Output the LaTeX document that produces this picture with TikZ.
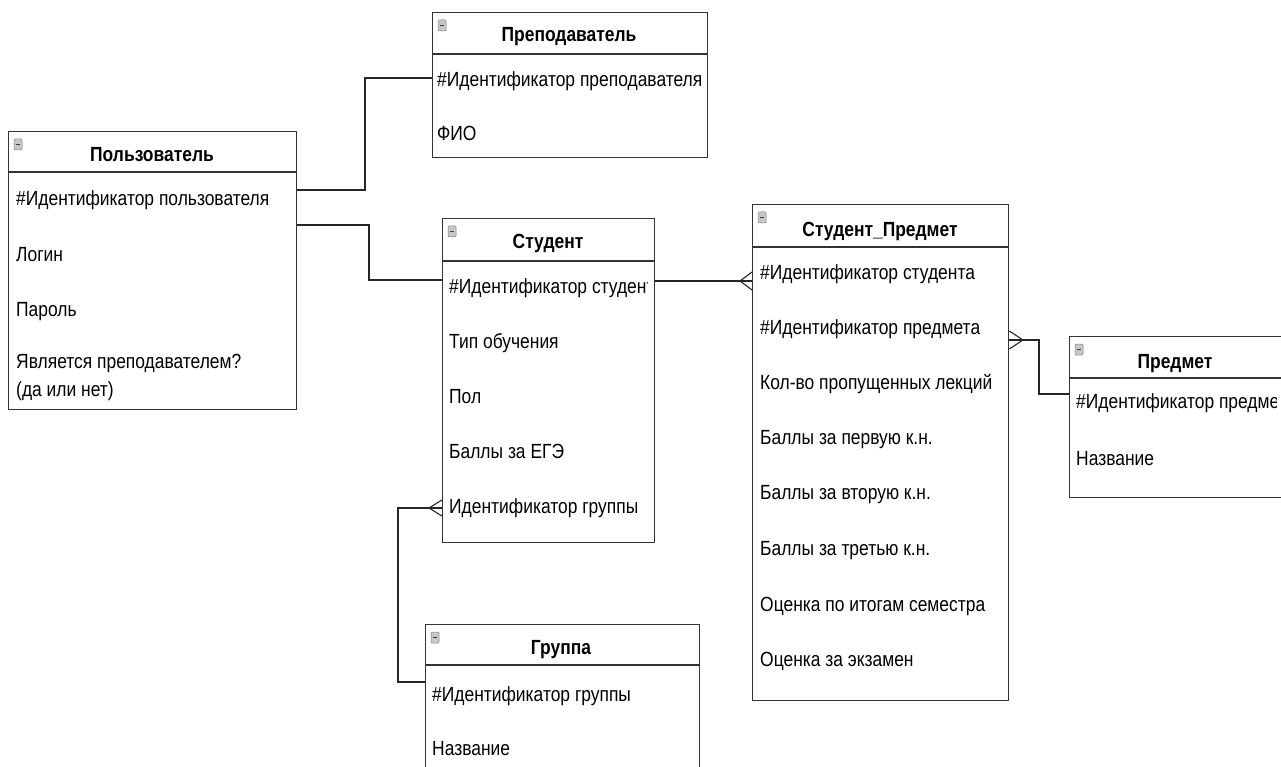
\documentclass[tikz,border=0pt]{standalone}
\usepackage{fontspec}
\setmainfont[FakeStretch=0.85]{Liberation Sans}
\begin{document}
\begin{tikzpicture}[x=1pt,y=-1pt,
  box/.style={draw=black!80,line width=1.3pt,anchor=north west,inner sep=0pt},
  attr/.style={anchor=base west,inner sep=0pt,align=left,font=\fontsize{20.5}{28}\selectfont},
  head/.style={anchor=base,inner sep=0pt,font=\fontsize{20.5}{24}\selectfont\bfseries},
  link/.style={draw=black!85,line width=1.1pt},
  icon/.style={fill=black!22,draw=black!50,line width=0.5pt,rounded corners=1pt}]
\useasboundingbox (0,0) rectangle (1281,767);

% Пользователь
\node[box,minimum width=288pt,minimum height=278pt] (polz) at (8,131) {};
\draw[box] (8,172) -- (296,172);
\node[head] (polzt) at (152,162) {Пользователь};
\node[attr] (polz1) at (16,206) {\#Идентификатор пользователя};
\node[attr] (polz2) at (16,261.5) {Логин};
\node[attr] (polz3) at (16,316.5) {Пароль};
\node[attr] (polz4) at (16,396) {Является преподавателем?\\(да или нет)};

% Преподаватель
\node[box,minimum width=275pt,minimum height=145pt] (prep) at (432,12) {};
\draw[box] (432,54) -- (707,54);
\node[head] (prept) at (569,41.5) {Преподаватель};
\begin{scope}
\clip (432,54) rectangle (700,157);
\node[attr] (prep1) at (437,86.5) {\#Идентификатор преподавателя};
\end{scope}
\node[attr] (prep2) at (437,141) {ФИО};

% Студент
\node[box,minimum width=212pt,minimum height=324pt] (stud) at (442,218) {};
\draw[box] (442,261) -- (654,261);
\node[head] (studt) at (548,248.5) {Студент};
\begin{scope}
\clip (442,261) rectangle (647,542);
\node[attr] (stud1) at (449,293.5) {\#Идентификатор студента};
\end{scope}
\node[attr] (stud2) at (449,348.5) {Тип обучения};
\node[attr] (stud3) at (449,403.5) {Пол};
\node[attr] (stud4) at (449,458.5) {Баллы за ЕГЭ};
\node[attr] (stud5) at (449,513.5) {Идентификатор группы};

% Студент_Предмет
\node[box,minimum width=256pt,minimum height=496pt] (stpr) at (752,204) {};
\draw[box] (752,247) -- (1008,247);
\node[head] (stprt) at (880,236.5) {Студент\_Предмет};
\node[attr] (stpr1) at (760,279.5) {\#Идентификатор студента};
\node[attr] (stpr2) at (760,334.5) {\#Идентификатор предмета};
\node[attr] (stpr3) at (760,389.5) {Кол-во пропущенных лекций};
\node[attr] (stpr4) at (760,444.5) {Баллы за первую к.н.};
\node[attr] (stpr5) at (760,499.5) {Баллы за вторую к.н.};
\node[attr] (stpr6) at (760,555.5) {Баллы за третью к.н.};
\node[attr] (stpr7) at (760,611) {Оценка по итогам семестра};
\node[attr] (stpr8) at (760,666.5) {Оценка за экзамен};

% Предмет
\node[box,minimum width=213pt,minimum height=161pt] (pred) at (1069,336) {};
\draw[box] (1069,378) -- (1282,378);
\node[head] (predt) at (1175,368) {Предмет};
\begin{scope}
\clip (1069,378) rectangle (1276,497);
\node[attr] (pred1) at (1076,408.5) {\#Идентификатор предмета};
\end{scope}
\node[attr] (pred2) at (1076,465.5) {Название};

% Группа
\node[box,minimum width=274pt,minimum height=160pt] (grup) at (425,624) {};
\draw[box] (425,665) -- (699,665);
\node[head] (grupt) at (561,654) {Группа};
\node[attr] (grup1) at (432,701.5) {\#Идентификатор группы};
\node[attr] (grup2) at (432,755) {Название};

% icons
\foreach \x/\y in {8/131,432/12,442/218,752/204,1069/336,425/624}{
  \filldraw[icon] (\x+6,\y+8) rectangle (\x+14,\y+19);
  \draw[black!75,line width=1.3pt] (\x+7.8,\y+13.5) -- (\x+12.2,\y+13.5);
}

% links
\draw[link] (polz.east |- 0,190) -| (365,78) -- (prep.west |- 0,78);
\draw[link] (polz.east |- 0,225) -| (369,280) -- (stud.west |- 0,280);
% student - student_subject
\coordinate (sf1) at (740,281);
\draw[link] (stud.east |- 0,281) -- (stpr.west |- 0,281);
\draw[link] (stpr.west |- 0,272) -- (sf1) -- (stpr.west |- 0,290);
% subject - student_subject
\coordinate (sf2) at (1023,340);
\draw[link] (stpr.east |- 0,340) -- (1039,340) |- (pred.west |- 0,394);
\draw[link] (stpr.east |- 0,331) -- (sf2) -- (stpr.east |- 0,349);
% group - student
\coordinate (sf3) at (429,508);
\draw[link] (stud.west |- 0,508) -- (398,508) |- (grup.west |- 0,682);
\draw[link] (stud.west |- 0,500) -- (sf3) -- (stud.west |- 0,516);
\end{tikzpicture}
\end{document}
